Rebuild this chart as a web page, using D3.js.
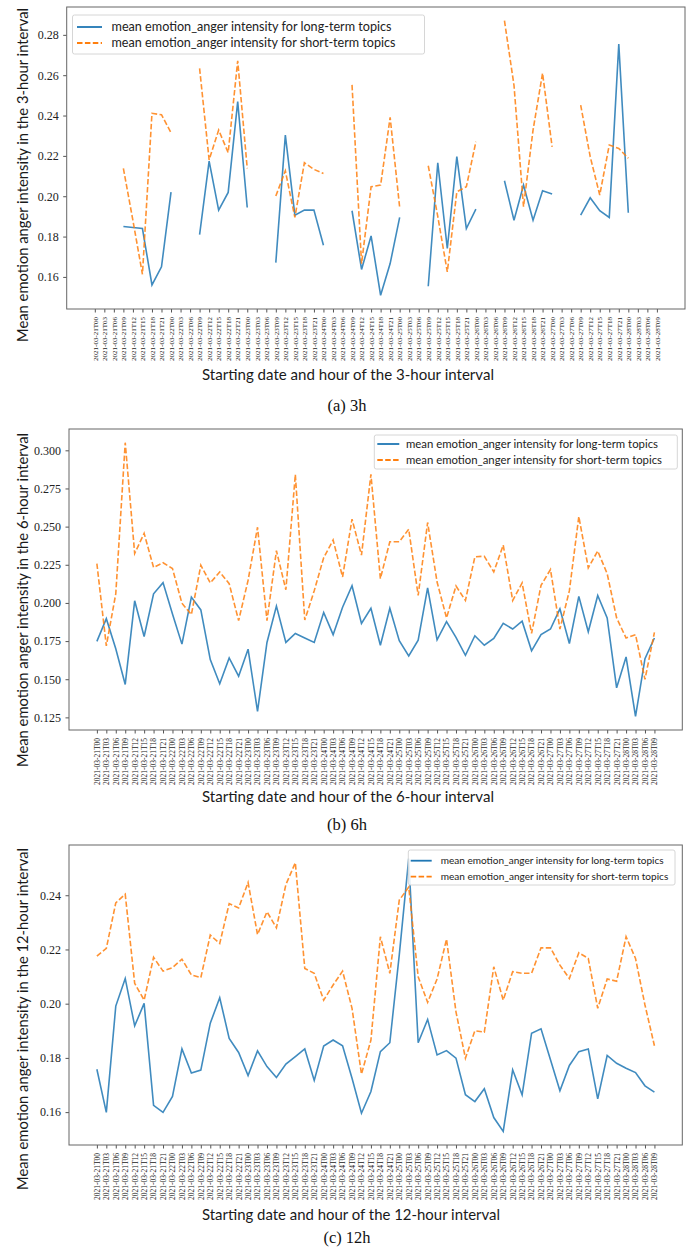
<!DOCTYPE html>
<html lang="en">
<head>
<meta charset="UTF-8">
<title>Mean emotion_anger intensity</title>
<script src="https://d3js.org/d3.v7.min.js"></script>
<style>
  body { margin: 0; background: #fff; }
  .frame { fill: none; stroke: #666; stroke-width: 1; }
  .ytick text { font-family: "Liberation Serif", serif; font-size: 12px; fill: #222; }
  .xtick text { font-family: "Liberation Serif", serif; fill: #222; }
  .tick line { stroke: #555; }
  .label { font-family: Lato, "Open Sans", sans-serif; fill: #1a1a1a; }
  .caption { font-family: "Liberation Serif", serif; font-size: 16.5px; fill: #111; }
  .legend text { font-family: Lato, "Open Sans", sans-serif; fill: #222; }
</style>
</head>
<body>
<svg id="chart" width="694" height="1249"></svg>
<script>
// x categories: start of each interval (every 3 hours)
const tickLabels = [
  "2021-03-21T00","2021-03-21T03","2021-03-21T06","2021-03-21T09","2021-03-21T12","2021-03-21T15","2021-03-21T18","2021-03-21T21",
  "2021-03-22T00","2021-03-22T03","2021-03-22T06","2021-03-22T09","2021-03-22T12","2021-03-22T15","2021-03-22T18","2021-03-22T21",
  "2021-03-23T00","2021-03-23T03","2021-03-23T06","2021-03-23T09","2021-03-23T12","2021-03-23T15","2021-03-23T18","2021-03-23T21",
  "2021-03-24T00","2021-03-24T03","2021-03-24T06","2021-03-24T09","2021-03-24T12","2021-03-24T15","2021-03-24T18","2021-03-24T21",
  "2021-03-25T00","2021-03-25T03","2021-03-25T06","2021-03-25T09","2021-03-25T12","2021-03-25T15","2021-03-25T18","2021-03-25T21",
  "2021-03-26T00","2021-03-26T03","2021-03-26T06","2021-03-26T09","2021-03-26T12","2021-03-26T15","2021-03-26T18","2021-03-26T21",
  "2021-03-27T00","2021-03-27T03","2021-03-27T06","2021-03-27T09","2021-03-27T12","2021-03-27T15","2021-03-27T18","2021-03-27T21",
  "2021-03-28T00","2021-03-28T03","2021-03-28T06","2021-03-28T09"
];

// (a) 3-hour intervals, null = no data
const long3h = [null,null,null, 0.185,0.1845,0.184,0.156,0.165,0.202, null,null,
  0.181,0.2174,0.1931,0.2019,0.2469,0.1944, null,null,
  0.1671,0.2303,0.1906,0.1931,0.1932,0.1757, null,null,
  0.1928,0.1637,0.1803,0.1509,0.1666,0.1895, null,null,
  0.1554,0.2166,0.1741,0.2196,0.184,0.1936, null,null,
  0.2077,0.1881,0.2055,0.1881,0.2027,0.2011, null,null,
  0.1906,0.1992,0.1928,0.1895,0.2754,0.1918, null,null,null];
const short3h = [null,null,null, 0.2138,0.188,0.1613,0.2411,0.2404,0.2315, null,null,
  0.2634,0.218,0.2328,0.2216,0.2671,0.2138, null,null,
  0.2001,0.2126,0.1895,0.2166,0.2133,0.2113, null,null,
  0.2552,0.1666,0.2047,0.2055,0.2391,0.1944, null,null,
  0.2151,0.19,0.1625,0.2022,0.2047,0.227, null,null,
  0.287,0.255,0.1948,0.2328,0.261,0.2245, null,null,
  0.2452,0.2196,0.2006,0.2254,0.2237,0.2188, null,null,null];

// (b) 6-hour intervals
const long6h = [0.1748,0.1897,0.170,0.1466,0.2014,0.178,0.206,0.2133,0.1928,0.173,
  0.2038,0.1954,0.1629,0.147,0.164,0.152,0.1697,0.129,0.1741,0.1979,
  0.1741,0.18,0.177,0.1741,0.1937,0.1792,0.1972,0.2113,0.1866,0.1965,
  0.1723,0.1965,0.1752,0.1653,0.1756,0.2098,0.1758,0.1877,0.1774,0.1657,
  0.1785,0.1723,0.1767,0.1866,0.1829,0.188,0.1686,0.1792,0.1829,0.1961,
  0.1734,0.2043,0.1811,0.2049,0.1902,0.1444,0.1646,0.1257,0.1635,0.177];
const short6h = [0.2258,0.1719,0.206,0.305,0.2324,0.2456,0.2232,0.2263,0.2225,0.1998,
  0.1924,0.2247,0.2131,0.2203,0.2126,0.1884,0.2148,0.2496,0.1884,0.2342,
  0.2086,0.2842,0.1888,0.208,0.2296,0.2412,0.217,0.2549,0.2313,0.2842,
  0.2159,0.2401,0.2401,0.2483,0.2049,0.2527,0.2137,0.1902,0.2111,0.2016,
  0.2302,0.2306,0.2203,0.2379,0.2016,0.2131,0.18,0.2115,0.2219,0.1829,
  0.208,0.2566,0.223,0.234,0.2192,0.1902,0.177,0.1792,0.1499,0.1807];

// (c) 12-hour intervals
const long12h = [0.1758,0.1599,0.1991,0.2093,0.1918,0.2001,0.1625,0.1599,0.1658,0.1833,
  0.1744,0.1755,0.1928,0.2022,0.1872,0.182,0.1735,0.1826,0.1768,0.1728,
  0.1777,0.1805,0.1833,0.1717,0.1844,0.1866,0.1845,0.1725,0.1596,0.1676,
  0.1823,0.1856,0.218,0.2535,0.1856,0.1942,0.1811,0.1827,0.1799,0.1664,
  0.1639,0.1686,0.158,0.1529,0.1756,0.1664,0.1891,0.1907,0.1793,0.1679,
  0.1772,0.1823,0.1833,0.1649,0.1809,0.178,0.1762,0.1746,0.1697,0.1674];
const short12h = [0.2175,0.2204,0.2372,0.2404,0.2075,0.2013,0.2171,0.212,0.2133,0.2164,
  0.2106,0.2096,0.2253,0.2222,0.2369,0.2353,0.2447,0.2255,0.2339,0.228,
  0.2439,0.252,0.213,0.2112,0.2013,0.2069,0.212,0.1983,0.174,0.1866,
  0.2247,0.2112,0.2382,0.243,0.2099,0.2005,0.2091,0.2238,0.197,0.1799,
  0.19,0.1895,0.2136,0.2013,0.2118,0.2112,0.2112,0.2206,0.2206,0.2142,
  0.2093,0.2188,0.2167,0.1983,0.2091,0.2083,0.2247,0.2167,0.1995,0.1845];

const yTicks3h = [0.16, 0.18, 0.20, 0.22, 0.24, 0.26, 0.28];
const yTicks6h = [0.125, 0.150, 0.175, 0.200, 0.225, 0.250, 0.275, 0.300];
const yTicks12h = [0.16, 0.18, 0.20, 0.22, 0.24];

const legendNames = [
  "mean emotion_anger intensity for long-term topics",
  "mean emotion_anger intensity for short-term topics"
];

const svg = d3.select("#chart");

function drawPanel(o) {
  const g = svg.append("g");
  const x = d3.scalePoint().domain(tickLabels).range([o.l, o.r]).padding(2.95);
  const all = o.long.concat(o.short).filter(v => v != null);
  const lo = d3.min(all), hi = d3.max(all), pad = (hi - lo) * 0.05;
  const y = d3.scaleLinear().domain([lo - pad, hi + pad]).range([o.b, o.t]);

  // y axis
  const ya = g.append("g").attr("class", "ytick")
    .attr("transform", `translate(${o.l},0)`)
    .call(d3.axisLeft(y).tickValues(o.yTicks).tickFormat(d3.format(o.fmt)).tickSize(3.5).tickPadding(4.5));
  ya.select(".domain").remove();

  // x axis
  const xa = g.append("g").attr("class", "xtick")
    .attr("transform", `translate(0,${o.b})`)
    .call(d3.axisBottom(x).tickSize(3.5));
  xa.select(".domain").remove();
  xa.selectAll(".tick text")
    .attr("transform", "rotate(-90)")
    .attr("y", 0).attr("x", -8).attr("dy", "0.32em")
    .style("text-anchor", "end")
    .style("font-size", o.xfs + "px");

  // lines
  const line = d3.line()
    .defined(d => d.v != null)
    .x(d => x(d.k)).y(d => y(d.v));
  const rows = arr => arr.map((v, i) => ({ k: tickLabels[i], v }));
  g.append("path").datum(rows(o.long))
    .attr("d", line).attr("fill", "none")
    .attr("stroke", "#1f77b4").attr("stroke-width", 1.6).attr("stroke-opacity", 0.85);
  g.append("path").datum(rows(o.short))
    .attr("d", line).attr("fill", "none")
    .attr("stroke", "#ff7f0e").attr("stroke-width", 1.6).attr("stroke-opacity", 0.85)
    .attr("stroke-dasharray", "5.5,2.4");

  g.append("rect").attr("class", "frame")
    .attr("x", o.l).attr("y", o.t).attr("width", o.r - o.l).attr("height", o.b - o.t);

  // legend
  const L = o.leg;
  const lg = g.append("g").attr("class", "legend");
  lg.append("rect").attr("x", L.x0).attr("y", L.y0)
    .attr("width", L.x1 - L.x0).attr("height", L.y1 - L.y0)
    .attr("rx", 2).attr("fill", "#fff").attr("fill-opacity", 0.85)
    .attr("stroke", "#d6d6d6").attr("stroke-width", 1);
  [["#1f77b4", null], ["#ff7f0e", "5.5,2.4"]].forEach(([c, dash], i) => {
    const yy = L.rows[i];
    lg.append("line").attr("x1", L.s0).attr("x2", L.s1).attr("y1", yy).attr("y2", yy)
      .attr("stroke", c).attr("stroke-width", 1.8).attr("stroke-dasharray", dash);
    lg.append("text").attr("x", L.tx).attr("y", yy).attr("dy", "0.35em")
      .style("font-size", L.fs + "px")
      .attr("textLength", L.len[i]).attr("lengthAdjust", "spacingAndGlyphs")
      .text(legendNames[i]);
  });

  // axis labels and caption
  g.append("text").attr("class", "label")
    .attr("transform", `translate(${o.ylx},${o.ylTop}) rotate(-90)`)
    .style("text-anchor", "end").style("font-size", "15px")
    .attr("textLength", o.ylLen).attr("lengthAdjust", "spacingAndGlyphs")
    .text(o.yLabel);
  g.append("text").attr("class", "label")
    .attr("x", 202).attr("y", o.xlBase).style("font-size", "15px")
    .attr("textLength", o.xlLen).attr("lengthAdjust", "spacingAndGlyphs")
    .text(o.xLabel);
  g.append("text").attr("class", "caption")
    .attr("x", 347).attr("y", o.capBase).style("text-anchor", "middle")
    .text(o.caption);
}

drawPanel({
  long: long3h, short: short3h, yTicks: yTicks3h, fmt: ".2f",
  l: 66.7, r: 685, t: 7, b: 309, xfs: 7,
  leg: { x0: 72.5, x1: 424.5, y0: 15, y1: 54, s0: 77, s1: 102, tx: 111.5, rows: [27, 43], fs: 12.5, len: [280, 284] },
  yLabel: "Mean emotion anger intensity in the 3-hour interval", ylx: 28, ylTop: 8, ylLen: 334,
  xLabel: "Starting date and hour of the 3-hour interval", xlBase: 380, xlLen: 292,
  caption: "(a) 3h", capBase: 411
});

drawPanel({
  long: long6h, short: short6h, yTicks: yTicks6h, fmt: ".3f",
  l: 69, r: 682.3, t: 429, b: 730, xfs: 7.5,
  leg: { x0: 374.3, x1: 677.3, y0: 435, y1: 469, s0: 377.3, s1: 399.3, tx: 406, rows: [444, 460], fs: 11, len: [252, 256] },
  yLabel: "Mean emotion anger intensity in the 6-hour interval", ylx: 28, ylTop: 433, ylLen: 334,
  xLabel: "Starting date and hour of the 6-hour interval", xlBase: 802, xlLen: 292,
  caption: "(b) 6h", capBase: 830
});

drawPanel({
  long: long12h, short: short12h, yTicks: yTicks12h, fmt: ".2f",
  l: 69, r: 682.3, t: 845, b: 1145, xfs: 7.5,
  leg: { x0: 408.3, x1: 675, y0: 850, y1: 885, s0: 410.7, s1: 431.7, tx: 440.7, rows: [860.7, 876.7], fs: 10, len: [223, 227.6] },
  yLabel: "Mean emotion anger intensity in the 12-hour interval", ylx: 28, ylTop: 848, ylLen: 342,
  xLabel: "Starting date and hour of the 12-hour interval", xlBase: 1220, xlLen: 298,
  caption: "(c) 12h", capBase: 1243
});
</script>
</body>
</html>
